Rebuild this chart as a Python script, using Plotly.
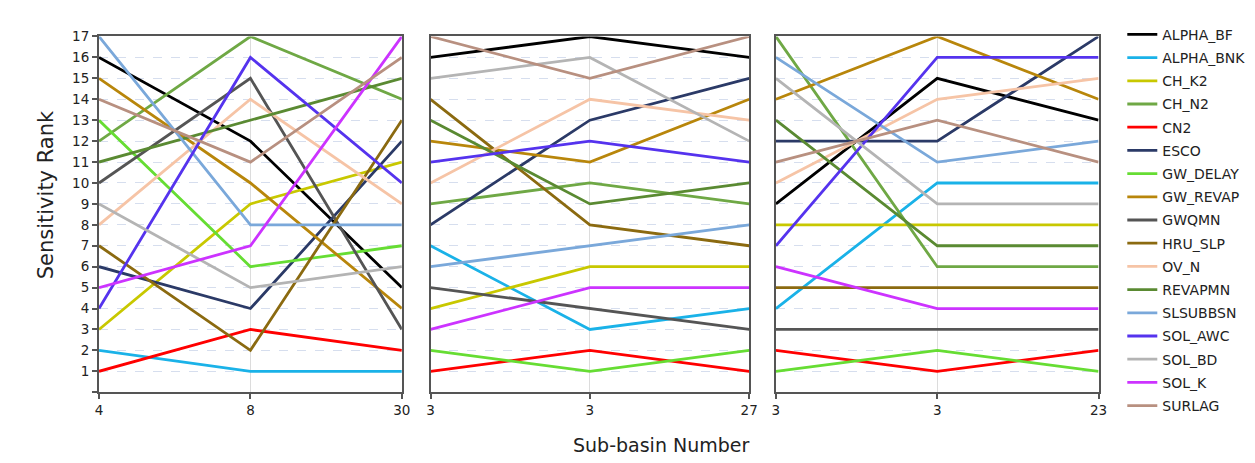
import plotly.graph_objects as go

W, H = 1255, 463

series = ["ALPHA_BF", "ALPHA_BNK", "CH_K2", "CH_N2", "CN2", "ESCO", "GW_DELAY",
          "GW_REVAP", "GWQMN", "HRU_SLP", "OV_N", "REVAPMN", "SLSUBBSN",
          "SOL_AWC", "SOL_BD", "SOL_K", "SURLAG"]

colors = ["#000000", "#1AB2E8", "#C8C800", "#6FA845", "#FF0000", "#2B3A67",
          "#66DD33", "#B8860B", "#555555", "#8B6A10", "#F6C4A6", "#5A8A32",
          "#7AA8DA", "#5533EE", "#B4B4B4", "#CC33FF", "#B89080"]

panel_labels = [["4", "8", "30"], ["3", "3", "27"], ["3", "3", "23"]]

panel1 = [[16, 12, 5], [2, 1, 1], [3, 9, 11], [12, 17, 14], [1, 3, 2], [6, 4, 12],
          [13, 6, 7], [15, 10, 4], [10, 15, 3], [7, 2, 13], [8, 14, 9], [11, 13, 15],
          [17, 8, 8], [4, 16, 10], [9, 5, 6], [5, 7, 17], [14, 11, 16]]
panel2 = [[16, 17, 16], [7, 3, 4], [4, 6, 6], [9, 10, 9], [1, 2, 1], [8, 13, 15],
          [2, 1, 2], [12, 11, 14], [5, 4, 3], [14, 8, 7], [10, 14, 13], [13, 9, 10],
          [6, 7, 8], [11, 12, 11], [15, 16, 12], [3, 5, 5], [17, 15, 17]]
panel3 = [[9, 15, 13], [4, 10, 10], [8, 8, 8], [17, 6, 6], [2, 1, 2], [12, 12, 17],
          [1, 2, 1], [14, 17, 14], [3, 3, 3], [5, 5, 5], [10, 14, 15], [13, 7, 7],
          [16, 11, 12], [7, 16, 16], [15, 9, 9], [6, 4, 4], [11, 13, 11]]
panels = [panel1, panel2, panel3]

y_ticks = list(range(0, 18))
y_ticktext = [""] + [str(v) for v in range(1, 18)]

fig = go.Figure()

xdom_px = [(96, 402), (431, 753), (780, 1106)]
ytop_px, ybot_px = 29, 391

for p, data in enumerate(panels):
    xa = "x" if p == 0 else f"x{p+1}"
    ya = "y" if p == 0 else f"y{p+1}"
    for i, name in enumerate(series):
        fig.add_trace(go.Scatter(
            x=[0, 1, 2], y=data[i], mode="lines", name=name,
            line=dict(color=colors[i], width=2.8),
            legendgroup=name, showlegend=(p == 0),
            xaxis=xa, yaxis=ya, hoverinfo="skip"))

axis_common_x = dict(range=[0, 2], tickvals=[0, 1, 2], showgrid=True,
                     gridcolor="#DCDCDC", gridwidth=1,
                     showline=True, linecolor="#555555", linewidth=2, mirror=True,
                     ticks="outside", ticklen=5, tickcolor="#555555", tickwidth=2,
                     tickfont=dict(family="DejaVu Sans", size=13.5, color="#222222"),
                     zeroline=False, fixedrange=True)
axis_common_y = dict(range=[0, 17], tickvals=y_ticks, showgrid=True,
                     gridcolor="#D6DEEE", gridwidth=1, griddash="dash",
                     showline=True, linecolor="#555555", linewidth=2, mirror=True,
                     zeroline=False, fixedrange=True,
                     domain=[1 - ybot_px / H, 1 - ytop_px / H])

layout = dict()
for p in range(3):
    xk = "xaxis" if p == 0 else f"xaxis{p+1}"
    yk = "yaxis" if p == 0 else f"yaxis{p+1}"
    ax = dict(axis_common_x)
    ax["domain"] = [xdom_px[p][0] / W, xdom_px[p][1] / W]
    ax["ticktext"] = panel_labels[p]
    ax["anchor"] = "y" if p == 0 else f"y{p+1}"
    layout[xk] = ax
    ay = dict(axis_common_y)
    ay["anchor"] = "x" if p == 0 else f"x{p+1}"
    if p == 0:
        ay.update(ticks="outside", ticklen=5, tickcolor="#555555", tickwidth=2,
                  ticktext=y_ticktext,
                  tickfont=dict(family="DejaVu Sans", size=13.5, color="#222222"))
    else:
        ay.update(showticklabels=False, ticks="")
    layout[yk] = ay

fig.update_layout(**layout)

fig.update_layout(
    width=W, height=H,
    margin=dict(l=0, r=0, t=0, b=0),
    paper_bgcolor="white", plot_bgcolor="white",
    font=dict(family="DejaVu Sans", color="#222222"),
    legend=dict(x=1130 / W, y=1 - 11 / H, xanchor="left", yanchor="top",
                font=dict(family="DejaVu Sans", size=14, color="#222222"),
                tracegroupgap=2, itemwidth=30, bgcolor="rgba(0,0,0,0)"),
    annotations=[
        dict(text="Sensitivity Rank", x=42 / W, y=1 - 190 / H, xref="paper", yref="paper",
             xanchor="center", yanchor="middle",
             textangle=-90, showarrow=False,
             font=dict(family="DejaVu Sans", size=21, color="#222222")),
        dict(text="Sub-basin Number", x=664 / W, y=1 - 445 / H, xref="paper", yref="paper",
             xanchor="center", yanchor="middle",
             showarrow=False,
             font=dict(family="DejaVu Sans", size=19, color="#222222")),
    ],
)

fig.write_html("out.html")
